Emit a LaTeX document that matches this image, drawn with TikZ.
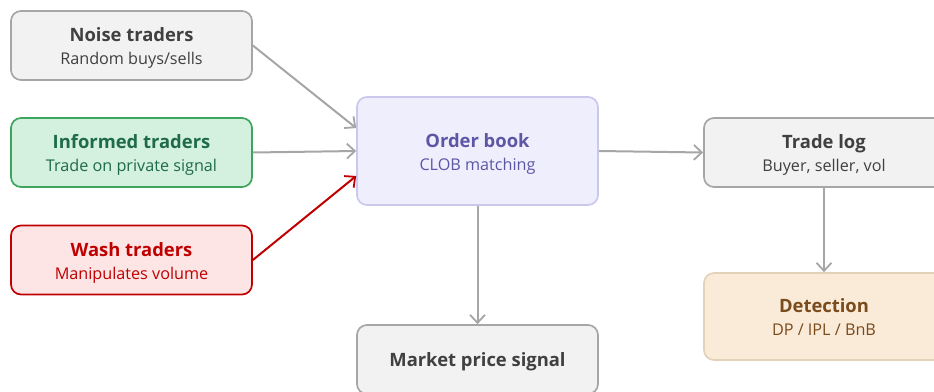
\documentclass[tikz,border=0pt]{standalone}
\usepackage{fontspec}
\setmainfont{Open Sans}
\usetikzlibrary{arrows.meta,calc}
\definecolor{grayfill}{HTML}{F2F2F2}
\definecolor{graydraw}{HTML}{A6A6A6}
\definecolor{graytext}{HTML}{404040}
\definecolor{greenfill}{HTML}{D3F1DE}
\definecolor{greendraw}{HTML}{3DA55D}
\definecolor{greentext}{HTML}{1F6B47}
\definecolor{redfill}{HTML}{FDE5E5}
\definecolor{reddraw}{HTML}{C00000}
\definecolor{purplefill}{HTML}{EEEEFC}
\definecolor{purpledraw}{HTML}{CBC8EE}
\definecolor{purpletext}{HTML}{5E56A5}
\definecolor{tanfill}{HTML}{FAEBD8}
\definecolor{tandraw}{HTML}{E2D2BA}
\definecolor{tantext}{HTML}{7A4B1C}
\newcommand{\boxtitle}[1]{{\fontsize{18.4}{23}\selectfont\bfseries #1}}
\newcommand{\boxsub}[1]{{\fontsize{16.2}{23}\selectfont #1}}
\newcommand{\twoline}[2]{\rule{0pt}{19pt}\smash{\boxtitle{#1}}\\\smash{\boxsub{#2}}\rule[-4pt]{0pt}{4pt}}
\newcommand{\oneline}[1]{\smash{\boxtitle{#1}}\rule{0pt}{13pt}}
\tikzset{
  box/.style={rounded corners=10pt, minimum width=241pt, minimum height=69pt,
    line width=1.7pt, align=center, inner sep=0pt, font=\fontsize{16.2}{23}\selectfont},
  graybox/.style={box, fill=grayfill, draw=graydraw, text=graytext},
  conn/.style={line width=2pt, draw=graydraw, -{Straight Barb[length=8pt,width=15pt,line width=1.8pt]}},
}
\begin{document}
\begin{tikzpicture}[x=1pt,y=-1pt]
\clip (0,0) rectangle (934,391);
\useasboundingbox (0,0) rectangle (934,391);
\fill[white] (0,0) rectangle (934,391);
\node[graybox] (noise) at (131.5,45.5) {\twoline{Noise traders}{Random buys/sells}};
\node[box, fill=greenfill, draw=greendraw, text=greentext] (informed) at (131.5,152.5) {\twoline{Informed traders}{Trade on private signal}};
\node[box, fill=redfill, draw=reddraw, text=reddraw] (wash) at (131.5,260) {\twoline{Wash traders}{Manipulates volume}};
\node[box, minimum height=108pt, fill=purplefill, draw=purpledraw, text=purpletext] (ob) at (477.5,151) {\twoline{Order book}{CLOB matching}};
\node[graybox] (market) at (477.5,359.5) {\oneline{Market price signal}};
\node[graybox, minimum width=240pt] (tl) at (824,152.5) {\twoline{Trade log}{Buyer, seller, vol}};
\node[box, minimum width=240pt, minimum height=87pt, fill=tanfill, draw=tandraw, text=tantext] (det) at (824,316.5) {\twoline{Detection}{DP / IPL / BnB}};
\draw[conn] (noise.east) -- ($(ob.west)+(0,-23)$);
\draw[conn] (informed.east) -- (ob.west);
\draw[conn, draw=reddraw] (wash.east) -- ($(ob.west)+(0,25)$);
\draw[conn] (ob.east) -- (tl.west);
\draw[conn] (ob.south) -- (market.north);
\draw[conn] (tl.south) -- (det.north);
\end{tikzpicture}
\end{document}
